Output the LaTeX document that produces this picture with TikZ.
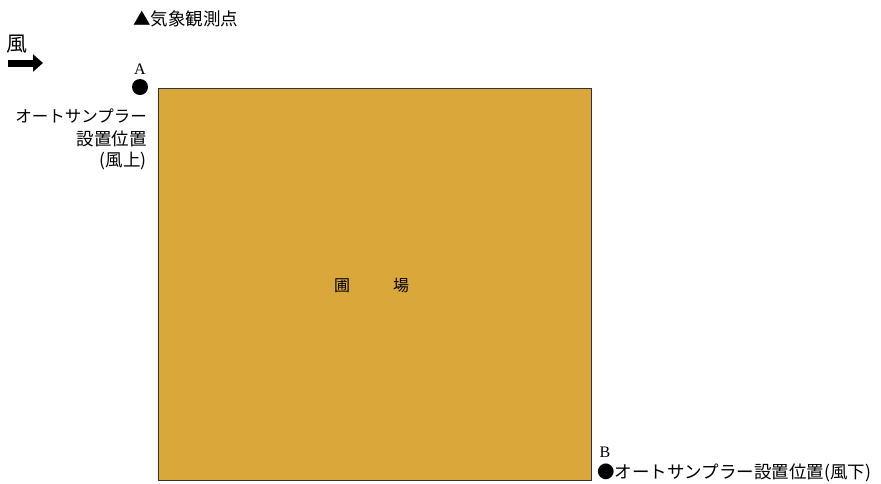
\documentclass[tikz,border=0pt]{standalone}
\usepackage{fontspec}
\usetikzlibrary{arrows.meta}
\newfontfamily\jp{Noto Sans CJK JP}
\setmainfont{Liberation Serif}
\definecolor{field}{RGB}{218,168,58}
\tikzset{
  jtext/.style={inner sep=0pt, font=\jp\fontsize{17.5}{20}\selectfont},
  ltr/.style={inner sep=0pt, font=\fontsize{16}{18}\selectfont},
  dot/.style={circle, fill=black, minimum size=16pt, inner sep=0pt},
}
\begin{document}
\begin{tikzpicture}[x=1pt,y=-1pt]
\useasboundingbox (0,0) rectangle (881,483);
\fill[white] (0,0) rectangle (881,483);
\node[draw=black!80, line width=1.3pt, fill=field, minimum width=433pt, minimum height=392pt, anchor=north west, inner sep=0pt] (field) at (157.5,88) {};
\node[jtext, font=\jp\fontsize{16}{18}\selectfont] (f1) at (342,286) {圃};
\node[jtext, font=\jp\fontsize{16}{18}\selectfont] (f2) at (401,286) {場};
\node[jtext, anchor=west] (met) at (133,19) {▲気象観測点};
\node[jtext, font=\jp\fontsize{21}{22}\selectfont, anchor=west] (wind) at (6,44) {風};
\coordinate (w1) at (8,63);
\coordinate (w2) at (43,63);
\draw[line width=7pt, -{Triangle[length=10pt,width=17pt]}] (w1) -- (w2);
\node[ltr] (A) at (140,69) {A};
\node[dot] (dA) at (140,87) {};
\node[jtext, font=\jp\fontsize{16.5}{20}\selectfont, anchor=east] (a1) at (147,116) {オートサンプラー};
\node[jtext, anchor=east] (a2) at (147,139) {設置位置};
\node[jtext, anchor=east] (a3) at (147,161) {(風上)};
\node[ltr] (B) at (605,452) {B};
\node[jtext, anchor=west] (bt) at (597,473) {●オートサンプラー設置位置(風下)};
\end{tikzpicture}
\end{document}
